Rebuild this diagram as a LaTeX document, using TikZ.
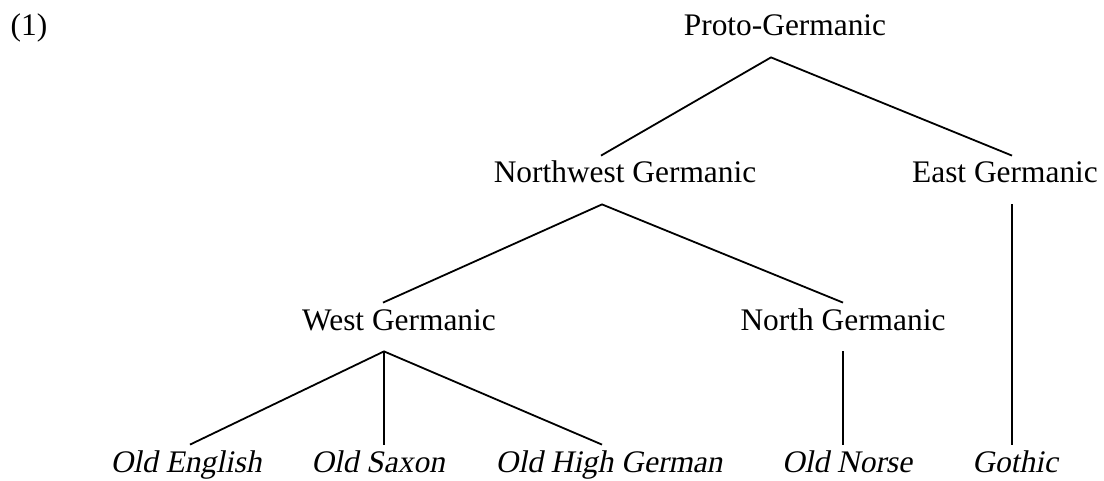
\documentclass[tikz,border=0pt]{standalone}
\usepackage{fontspec}
\setmainfont{Liberation Serif}
\newfontfamily\slantfont[FakeSlant=0.2]{Liberation Serif}
\usepackage{tikz}
\usetikzlibrary{positioning}

\begin{document}
\begin{tikzpicture}[x=0.5pt, y=-0.5pt,
		lang/.style={inner sep=0pt, anchor=base, text height=13.5pt, text depth=10.5pt,
								font=\fontsize{15.7}{18}\selectfont},
		leaf/.style={lang, font=\fontsize{15.7}{18}\selectfont\slantfont},
		branch/.style={line width=0.9pt},
	]
		\useasboundingbox (0,0) rectangle (1104,481);

		% example number
		\node[lang] (num) at (29,36) {(1)};

		% tree levels
		\node[lang] (pg) at (785,36) {Proto-Germanic};
		\node[lang] (nw) at (625,183) {Northwest Germanic};
		\node[lang] (eg) at (1005,183) {East Germanic};
		\node[lang] (wg) at (399,330) {West Germanic};
		\node[lang] (ng) at (843,330) {North Germanic};

		% attested languages
		\node[leaf] (oe) at (186,472) {Old English};
		\node[leaf] (os) at (378,472) {Old Saxon};
		\node[leaf] (ohg) at (609,472) {Old High German};
		\node[leaf] (on) at (847,472) {Old Norse};
		\node[leaf] (got) at (1015,472) {Gothic};

		% branches
		\draw[branch] ([xshift=-12pt]nw.north) -- ([xshift=-7pt]pg.south) -- ([xshift=3.5pt]eg.north);
		\draw[branch] ([xshift=-8pt]wg.north) -- ([xshift=-11.5pt]nw.south) -- (ng.north);
		\draw[branch] ([xshift=2pt]oe.north) -- ([xshift=-7.5pt]wg.south) -- ([xshift=-3.5pt]ohg.north);
		\draw[branch] ([xshift=-7.5pt]wg.south) -- ([xshift=3pt]os.north);
		\draw[branch] (ng.south) -- ([xshift=-2pt]on.north);
		\draw[branch] ([xshift=3.5pt]eg.south) -- ([xshift=-1.5pt]got.north);
	\end{tikzpicture}
\end{document}
